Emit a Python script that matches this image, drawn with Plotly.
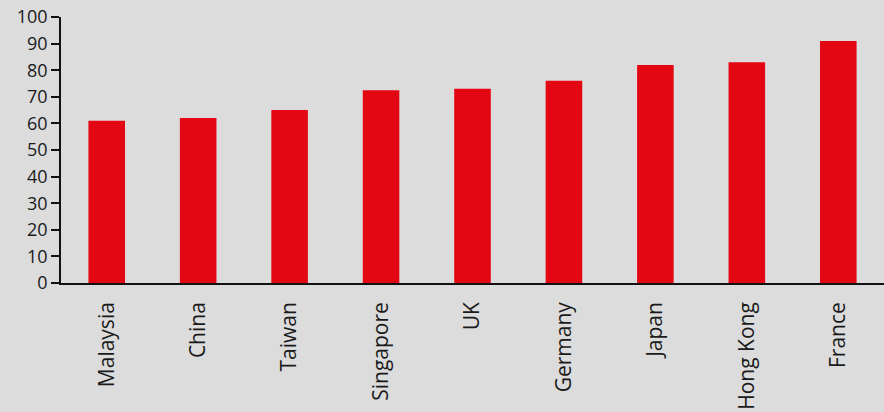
import plotly.graph_objects as go

countries = ["Malaysia", "China", "Taiwan", "Singapore", "UK", "Germany", "Japan", "Hong Kong", "France"]
values = [61, 62, 65, 72.5, 73, 76, 82, 83, 91]
y_ticks = list(range(0, 101, 10))

fig = go.Figure(go.Bar(
    x=countries, y=values,
    marker=dict(color="#e30613", line=dict(width=0)),
    width=0.4,
))

font = "Open Sans"
fig.update_layout(
    width=884, height=412,
    margin=dict(l=61, r=0, t=17, b=129),
    paper_bgcolor="#dcdcdc", plot_bgcolor="#dcdcdc",
    showlegend=False,
    bargap=0.6,
    font=dict(family=font, size=18, color="#1a1a1a"),
    xaxis=dict(
        showline=True, linecolor="#111111", linewidth=1.5,
        ticks="", showgrid=False, tickangle=-90,
        tickfont=dict(size=21, family=font, color="#1a1a1a"),
        ticklabelstandoff=9,
        automargin=False,
        fixedrange=True,
    ),
    yaxis=dict(
        range=[0, 100], tickvals=y_ticks, showgrid=False, zeroline=False,
        showline=True, linecolor="#111111", linewidth=1.5,
        ticks="outside", ticklen=8, tickcolor="#111111", tickwidth=1.5,
        tickfont=dict(size=18, family=font, color="#1a1a1a"),
        automargin=False,
        fixedrange=True,
    ),
)

fig.write_html("out.html")
